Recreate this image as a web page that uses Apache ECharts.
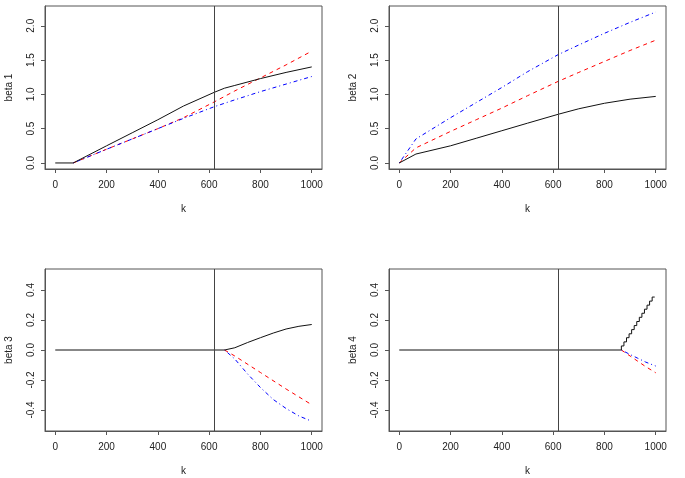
<!DOCTYPE html>
<html>
<head>
<meta charset="utf-8">
<script src="https://cdn.jsdelivr.net/npm/echarts@6/dist/echarts.min.js"></script>
<style>
html,body{margin:0;padding:0;background:#fff;}
#chart{width:685px;height:478px;}
</style>
</head>
<body>
<div id="chart"></div>
<script>
// ---- data ----
var xTicks = [0, 200, 400, 600, 800, 1000];
var yTicksTop = [0, 0.5, 1.0, 1.5, 2.0];
var yTicksBottom = [-0.4, -0.2, 0.0, 0.2, 0.4];
var vlineK = 620;

// beta 1
var k1Black = [0, 70, 200, 300, 400, 500, 620, 660, 700, 800, 900, 1000];
var v1Black = [0, 0, 0.25, 0.44, 0.63, 0.83, 1.03, 1.09, 1.13, 1.23, 1.32, 1.40];
var k1Red = [70, 200, 300, 400, 500, 620, 700, 800, 900, 1000];
var v1Red = [0, 0.20, 0.35, 0.50, 0.66, 0.89, 1.05, 1.24, 1.43, 1.63];
var k1Blue = [70, 200, 300, 400, 500, 620, 700, 800, 900, 1000];
var v1Blue = [0, 0.20, 0.35, 0.50, 0.65, 0.82, 0.92, 1.04, 1.15, 1.26];

// beta 2
var k2 = [0, 65, 200, 300, 400, 500, 620, 700, 800, 900, 1000];
var v2Black = [0, 0.13, 0.25, 0.36, 0.47, 0.58, 0.71, 0.79, 0.87, 0.93, 0.97];
var v2Red = [0, 0.22, 0.46, 0.63, 0.80, 0.98, 1.19, 1.32, 1.48, 1.64, 1.79];
var v2Blue = [0, 0.35, 0.66, 0.88, 1.10, 1.33, 1.58, 1.72, 1.89, 2.05, 2.20];

// beta 3
var k3Black = [0, 660, 700, 750, 800, 850, 900, 950, 1000];
var v3Black = [0, 0, 0.015, 0.05, 0.082, 0.113, 0.14, 0.158, 0.17];
var k3Red = [660, 700, 800, 900, 1000];
var v3Red = [0, -0.04, -0.15, -0.26, -0.365];
var k3Blue = [660, 700, 750, 800, 850, 900, 950, 1000];
var v3Blue = [0, -0.06, -0.16, -0.25, -0.33, -0.39, -0.44, -0.475];

// beta 4
var k4Black = [0, 866, 876, 886, 896, 906, 916, 926, 936, 946, 956, 966, 976, 986, 996];
var v4Black = [0, 0, 0.027, 0.054, 0.082, 0.108, 0.136, 0.163, 0.19, 0.218, 0.245, 0.272, 0.299, 0.326, 0.353];
var k4Red = [866, 900, 930, 960, 1000];
var v4Red = [0, -0.04, -0.075, -0.11, -0.152];
var k4Blue = [866, 900, 930, 960, 1000];
var v4Blue = [0, -0.03, -0.055, -0.08, -0.107];

var yNames = ['beta 1', 'beta 2', 'beta 3', 'beta 4'];

// ---- chart ----
function pairs(ks, vs) { return ks.map(function (k, i) { return [k, vs[i]]; }); }

var FONT = "'Liberation Sans', Arial, Helvetica, sans-serif";
var BOX = '#555';
var TXT = '#222';

var grids = [
  {left: 45, top: 6, width: 277, height: 163},
  {left: 389, top: 6, width: 277, height: 163},
  {left: 45, top: 269, width: 277, height: 162},
  {left: 389, top: 269, width: 277, height: 162}
];

var option = {
  animation: false,
  backgroundColor: '#fff',
  grid: grids.map(function (g) {
    return Object.assign({show: true, borderColor: BOX, borderWidth: 1, backgroundColor: 'transparent', containLabel: false}, g);
  }),
  xAxis: [0, 1, 2, 3].map(function (i) {
    return {
      type: 'value', gridIndex: i, min: -40, max: 1040,
      name: 'k', nameLocation: 'middle', nameGap: 35,
      nameTextStyle: {fontFamily: FONT, fontSize: 10, color: TXT},
      axisLine: {show: true, onZero: false, lineStyle: {color: BOX, width: 1}},
      axisTick: {show: true, customValues: xTicks, length: 4, lineStyle: {color: BOX}},
      axisLabel: {customValues: xTicks, margin: 11, fontFamily: FONT, fontSize: 10, color: TXT,
        formatter: function (v) { return String(Math.round(v)); }},
      splitLine: {show: false}
    };
  }),
  yAxis: [0, 1, 2, 3].map(function (i) {
    var top = i < 2;
    var ticks = top ? yTicksTop : yTicksBottom;
    return {
      type: 'value', gridIndex: i,
      min: top ? -0.088 : -0.54, max: top ? 2.288 : 0.54,
      name: yNames[i], nameLocation: 'middle', nameGap: 31, nameRotate: 90,
      nameTextStyle: {fontFamily: FONT, fontSize: 10, color: TXT},
      axisLine: {show: true, onZero: false, lineStyle: {color: BOX, width: 1}},
      axisTick: {show: true, customValues: ticks, length: 4, lineStyle: {color: BOX}},
      axisLabel: {customValues: ticks, rotate: 90, margin: 9, fontFamily: FONT, fontSize: 10, color: TXT,
        formatter: function (v) { return Number(v).toFixed(1); }},
      splitLine: {show: false}
    };
  }),
  series: []
};

function line(idx, ks, vs, color, type, z, step) {
  var s = {
    type: 'line', xAxisIndex: idx, yAxisIndex: idx,
    data: pairs(ks, vs), showSymbol: false, symbol: 'none', z: z,
    lineStyle: {color: color, width: 1, type: type},
    silent: true
  };
  if (step) s.step = step;
  return s;
}

var RED = '#ff0000', BLUE = '#0000ff', BLACK = '#111';
var DASH = [4, 4], DOTDASH = [1, 3, 4, 3];

option.series.push(
  line(0, k1Red, v1Red, RED, DASH, 2),
  line(0, k1Blue, v1Blue, BLUE, DOTDASH, 3),
  line(0, k1Black, v1Black, BLACK, 'solid', 4),
  line(1, k2, v2Red, RED, DASH, 2),
  line(1, k2, v2Blue, BLUE, DOTDASH, 3),
  line(1, k2, v2Black, BLACK, 'solid', 4),
  line(2, k3Red, v3Red, RED, DASH, 2),
  line(2, k3Blue, v3Blue, BLUE, DOTDASH, 3),
  line(2, k3Black, v3Black, BLACK, 'solid', 4),
  line(3, k4Red, v4Red, RED, DASH, 2),
  line(3, k4Blue, v4Blue, BLUE, DOTDASH, 3),
  line(3, k4Black, v4Black, BLACK, 'solid', 4, 'start')
);

// vertical reference line in each panel
for (var i = 0; i < 4; i++) {
  option.series.push({
    type: 'line', xAxisIndex: i, yAxisIndex: i, data: [], silent: true,
    markLine: {
      silent: true, symbol: 'none', animation: false,
      label: {show: false},
      lineStyle: {color: '#444', width: 1, type: 'solid'},
      data: [{xAxis: vlineK}]
    }
  });
}

var chart = echarts.init(document.getElementById('chart'), null, {renderer: 'canvas'});
chart.setOption(option);
</script>
</body>
</html>
